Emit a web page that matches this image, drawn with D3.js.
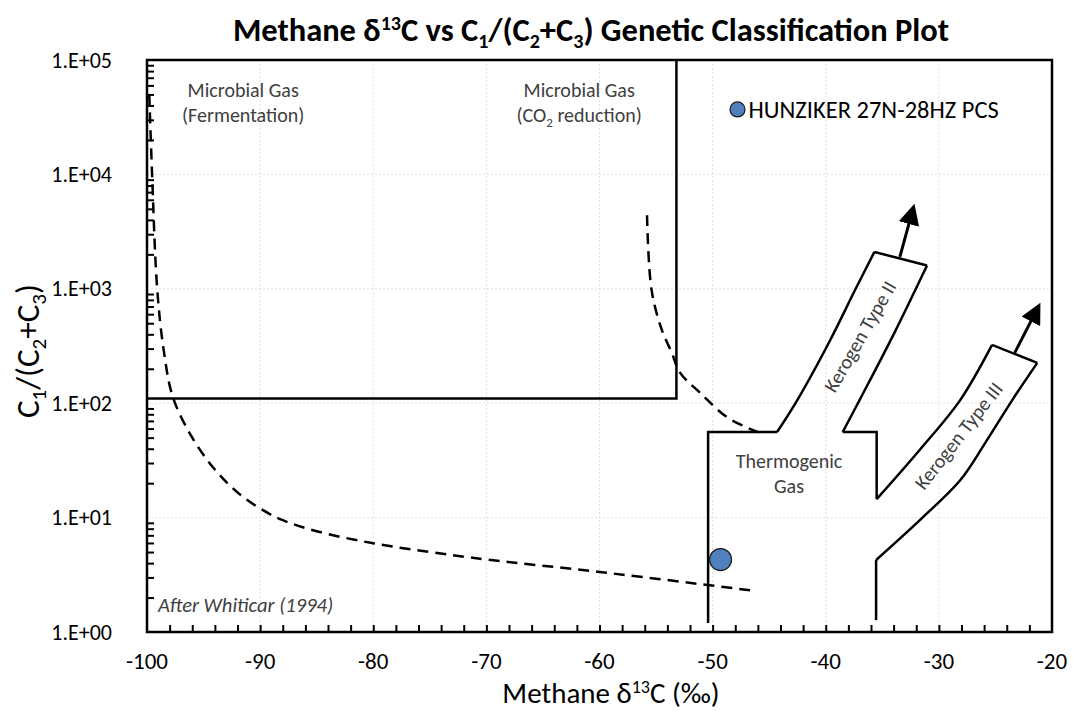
<!DOCTYPE html>
<html>
<head>
<meta charset="utf-8">
<script src="https://cdn.jsdelivr.net/npm/d3@7"></script>
<style>
  body { margin: 0; background: #fff; }
  text { font-family: Carlito, Lato, "Open Sans", sans-serif; }
</style>
</head>
<body>
<div id="chart"></div>
<script>
// axis ticks
var xTicks = [-100, -90, -80, -70, -60, -50, -40, -30, -20];
var yTicks = [1, 10, 100, 1000, 10000, 100000];
var yTickLabels = ["1.E+00", "1.E+01", "1.E+02", "1.E+03", "1.E+04", "1.E+05"];

// sample
var sampleName = "HUNZIKER 27N-28HZ PCS";
var sampleD13C = [-49.3];
var sampleRatio = [4.3];

// Whiticar (1994) field boundaries, [d13C, C1/(C2+C3)]
var fermentationCurve = [[-99.8, 50000], [-99.55, 10000], [-99.1, 1000], [-98.5, 280], [-97.7, 112],
  [-96, 50], [-94, 26.3], [-92, 16.6], [-90, 12], [-88, 9.5], [-85, 7.6], [-80, 5.96],
  [-75, 5.0], [-70, 4.3], [-60, 3.35], [-46.3, 2.29]];
var co2Curve = [[-55.8, 4400], [-55.4, 980], [-54.5, 440], [-53.6, 275], [-52.9, 186],
  [-51.1, 123], [-48.6, 74], [-45.8, 55]];
var microbialBox = [[-100, 110], [-53.2, 110], [-53.2, 100000]];
var thermoLeft = [[-50.4, 1.2], [-50.4, 56], [-44.3, 56]];
var kerogen2Left = [[-44.3, 56], [-42.5, 107], [-39.6, 357], [-37.4, 980], [-35.7, 2100]];
var kerogen2Top = [[-35.7, 2100], [-31.05, 1600]];
var kerogen2Right = [[-31.05, 1600], [-34.0, 400], [-37.0, 107], [-38.5, 56]];
var thermoNotch = [[-38.5, 56], [-35.5, 56], [-35.5, 14.5]];
var kerogen3Left = [[-35.5, 14.5], [-31.7, 39], [-28.1, 107], [-25.3, 323]];
var kerogen3Top = [[-25.3, 323], [-21.3, 225]];
var kerogen3Right = [[-21.3, 225], [-23.5, 107], [-25.9, 45], [-28.1, 21.3], [-31.4, 10.1],
  [-35.55, 4.26]];
var thermoRight = [[-35.55, 4.26], [-35.55, 1.27]];
var kerogen2Arrow = [[-33.45, 1900], [-32.55, 4000]];
var kerogen3Arrow = [[-23.3, 275], [-21.7, 560]];

var width = 1075, height = 711;
var margin = {top: 60, right: 23, bottom: 79, left: 147};
var innerW = width - margin.left - margin.right;
var innerH = height - margin.top - margin.bottom;

var svg = d3.select("#chart").append("svg")
  .attr("width", width)
  .attr("height", height);

var x = d3.scaleLinear().domain([-100, -20]).range([0, innerW]);
var y = d3.scaleLog().domain([1, 100000]).range([innerH, 0]);

var g = svg.append("g").attr("transform", `translate(${margin.left},${margin.top})`);

// gridlines
g.selectAll(".vgrid").data(xTicks.slice(1, -1)).enter().append("line")
  .attr("x1", d => x(d)).attr("x2", d => x(d))
  .attr("y1", 0).attr("y2", innerH)
  .attr("stroke", "#e0e0e0").attr("stroke-dasharray", "2,2");
g.selectAll(".hgrid").data(yTicks.slice(1, -1)).enter().append("line")
  .attr("x1", 0).attr("x2", innerW)
  .attr("y1", d => y(d)).attr("y2", d => y(d))
  .attr("stroke", "#e0e0e0").attr("stroke-dasharray", "2,2");

// axes with inside ticks
var xMinor = d3.range(-98, -20, 2);
var xAxis = d3.axisBottom(x).tickValues(xMinor).tickSize(-7).tickFormat("");
g.append("g").attr("transform", `translate(0,${innerH})`).call(xAxis)
  .call(s => s.select(".domain").remove())
  .selectAll("line").attr("stroke", "#000").attr("stroke-width", 2);

var yMinor = [];
[1, 10, 100, 1000, 10000].forEach(b => d3.range(2, 10).forEach(m => yMinor.push(b * m)));
var yAxis = d3.axisLeft(y).tickValues(yMinor).tickSize(-7).tickFormat("");
g.append("g").call(yAxis)
  .call(s => s.select(".domain").remove())
  .selectAll("line").attr("stroke", "#000").attr("stroke-width", 2);

// tick labels
g.selectAll(".xl").data(xTicks).enter().append("text")
  .attr("x", d => x(d)).attr("y", innerH + 37)
  .attr("text-anchor", "middle").attr("font-size", 23).attr("fill", "#000")
  .text(d => d);
g.selectAll(".yl").data(yTicks).enter().append("text")
  .attr("x", -35).attr("y", d => y(d) + 7.5)
  .attr("text-anchor", "end").attr("font-size", 22).attr("fill", "#000")
  .text((d, i) => yTickLabels[i]);

// plot border
g.append("rect").attr("width", innerW).attr("height", innerH)
  .attr("fill", "none").attr("stroke", "#000").attr("stroke-width", 2.5);

var line = d3.line().x(d => x(d[0])).y(d => y(d[1]));
var curve = d3.line().x(d => x(d[0])).y(d => y(d[1])).curve(d3.curveCatmullRom.alpha(0.5));

// dashed boundaries
[fermentationCurve, co2Curve].forEach(pts => {
  g.append("path").attr("d", curve(pts))
    .attr("fill", "none").attr("stroke", "#000").attr("stroke-width", 2.5)
    .attr("stroke-dasharray", "11,7");
});

// solid field outlines
[microbialBox, thermoLeft, thermoNotch, thermoRight, kerogen2Top, kerogen3Top].forEach(pts => {
  g.append("path").attr("d", line(pts))
    .attr("fill", "none").attr("stroke", "#000").attr("stroke-width", 2.5)
    .attr("stroke-linejoin", "miter");
});
[kerogen2Left, kerogen2Right, kerogen3Left, kerogen3Right].forEach(pts => {
  g.append("path").attr("d", curve(pts))
    .attr("fill", "none").attr("stroke", "#000").attr("stroke-width", 2.5);
});

// arrows
svg.append("defs").append("marker")
  .attr("id", "arrow").attr("viewBox", "0 0 10 10")
  .attr("refX", 2).attr("refY", 5)
  .attr("markerWidth", 7).attr("markerHeight", 7)
  .attr("markerUnits", "strokeWidth")
  .attr("orient", "auto")
  .append("path").attr("d", "M0,0 L10,5 L0,10 z").attr("fill", "#000");
[kerogen2Arrow, kerogen3Arrow].forEach(pts => {
  g.append("path").attr("d", line(pts))
    .attr("stroke", "#000").attr("stroke-width", 3)
    .attr("marker-end", "url(#arrow)");
});

// field labels
function label(lines, cx, cy, opts) {
  var t = g.append("text").attr("text-anchor", "middle")
    .attr("font-size", 20).attr("fill", "#404040");
  if (opts && opts.rotate) t.attr("transform", `rotate(${opts.rotate},${cx},${cy})`);
  lines.forEach((l, i) => {
    t.append("tspan").attr("x", cx).attr("y", cy + i * 25).html(l);
  });
  return t;
}
label(["Microbial Gas", "(Fermentation)"], x(-91.5), 37);
label(["Microbial Gas", "(CO<tspan font-size='13' dy='5'>2</tspan><tspan dy='-5'> reduction)</tspan>"], x(-61.8), 37);
label(["Thermogenic", "Gas"], 642, 408);
label(["Kerogen Type II"], 719, 280, {rotate: -60});
label(["Kerogen Type III"], 817, 380, {rotate: -52});

g.append("text").attr("x", 11).attr("y", 552)
  .attr("font-size", 20.5).attr("font-style", "italic").attr("fill", "#404040")
  .text("After Whiticar (1994)");

// sample point
g.selectAll(".pt").data(sampleD13C).enter().append("circle")
  .attr("cx", d => x(d)).attr("cy", (d, i) => y(sampleRatio[i]))
  .attr("r", 11).attr("fill", "#4f81bd").attr("stroke", "#1a1a1a").attr("stroke-width", 1.2);

// legend
var lg = g.append("g").attr("transform", `translate(${x(-47.8)},${y(37000)})`);
lg.append("circle").attr("r", 7.5).attr("fill", "#4f81bd").attr("stroke", "#1a1a1a").attr("stroke-width", 1.2);
lg.append("text").attr("x", 11).attr("y", 8.5).attr("font-size", 24.5).attr("fill", "#000").text(sampleName);

// title
svg.append("text").attr("x", 591).attr("y", 41).attr("text-anchor", "middle")
  .attr("font-size", 32.5).attr("font-weight", "bold").attr("fill", "#000")
  .html("Methane &#948;<tspan font-size='20' dy='-11'>13</tspan><tspan dy='11'>C vs C</tspan><tspan font-size='20' dy='7'>1</tspan><tspan dy='-7'>/(C</tspan><tspan font-size='20' dy='7'>2</tspan><tspan dy='-7'>+C</tspan><tspan font-size='20' dy='7'>3</tspan><tspan dy='-7'>) Genetic Classification Plot</tspan>");

// axis titles
svg.append("text").attr("x", 611).attr("y", 703).attr("text-anchor", "middle")
  .attr("font-size", 29).attr("fill", "#000")
  .html("Methane &#948;<tspan font-size='18' dy='-10'>13</tspan><tspan dy='10'>C (&#8240;)</tspan>");
svg.append("text").attr("transform", "translate(39,351) rotate(-90)").attr("text-anchor", "middle")
  .attr("font-size", 33).attr("fill", "#000")
  .html("C<tspan font-size='21' dy='7'>1</tspan><tspan dy='-7'>/(C</tspan><tspan font-size='21' dy='7'>2</tspan><tspan dy='-7'>+C</tspan><tspan font-size='21' dy='7'>3</tspan><tspan dy='-7'>)</tspan>");
</script>
</body>
</html>
